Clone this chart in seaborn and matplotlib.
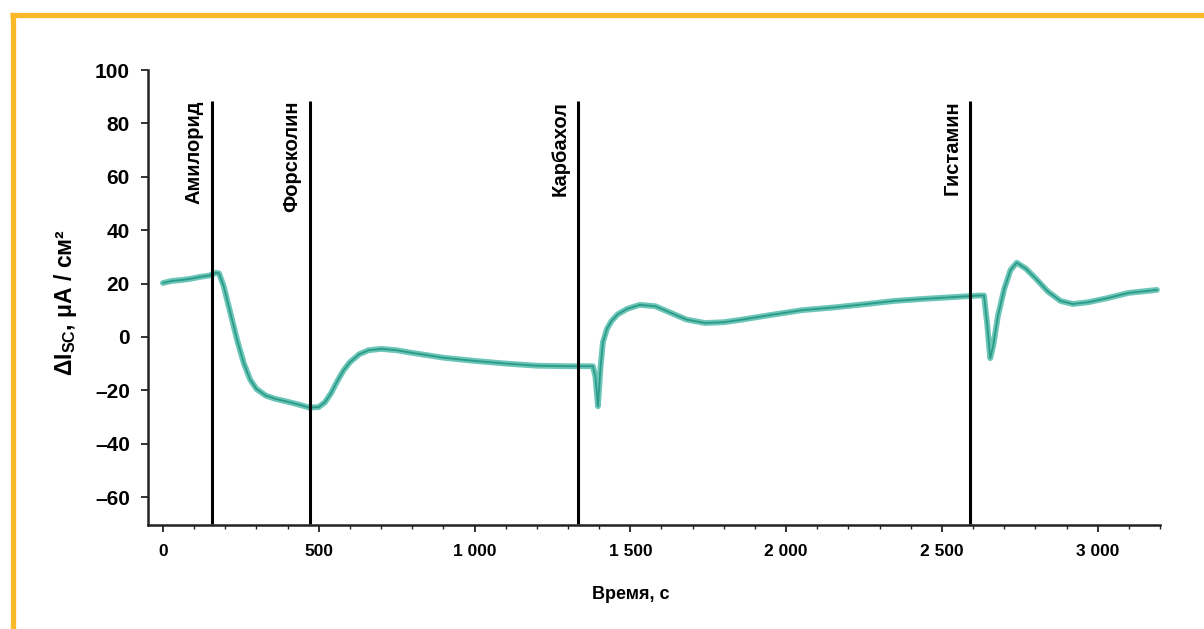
import matplotlib
matplotlib.use("Agg")
import matplotlib.pyplot as plt
import seaborn as sns
import pandas as pd
from matplotlib.lines import Line2D
from matplotlib.ticker import MultipleLocator, FuncFormatter

# трасса тока короткого замыкания (оценено по рисунку)
time_s = [0, 30, 60, 90, 120, 150, 170, 180, 195, 210, 225, 240, 260, 280, 300,
          330, 360, 400, 440, 470, 500, 520, 540, 560, 580, 600, 630, 660, 700,
          750, 800, 900, 1000, 1100, 1200, 1300, 1380, 1388, 1396, 1404, 1412,
          1425, 1440, 1460, 1490, 1530, 1580, 1630, 1680, 1740, 1800, 1860, 1950,
          2050, 2150, 2250, 2350, 2450, 2550, 2620, 2635, 2645, 2655, 2665, 2680,
          2700, 2720, 2740, 2770, 2800, 2840, 2880, 2920, 2970, 3030, 3100, 3190]
isc = [20.2, 21, 21.3, 21.8, 22.5, 23, 24, 23.8, 19, 12, 5, -2, -10, -16, -19.5,
       -22, -23.2, -24.3, -25.5, -26.5, -26.3, -24.5, -21, -16.5, -12.5, -9.5, -6.5,
       -5, -4.5, -5, -6, -7.8, -9, -10, -10.8, -11, -11, -15, -26, -12, -2,
       3, 6, 8.5, 10.5, 12, 11.5, 9, 6.5, 5.2, 5.5, 6.5, 8.2,
       10, 11, 12.2, 13.5, 14.3, 15, 15.5, 15.5, 5, -8, -3, 8,
       18, 25, 27.8, 25.5, 22, 17, 13.5, 12.3, 13, 14.5, 16.5, 17.6]

drugs = ["Амилорид", "Форсколин", "Карбахол", "Гистамин"]
drug_times = [157, 472, 1332, 2590]

df = pd.DataFrame({"t": time_s, "isc": isc})

sns.set_style("ticks")
plt.rcParams["font.family"] = ["Liberation Sans", "DejaVu Sans"]
plt.rcParams["font.weight"] = "bold"
plt.rcParams["text.color"] = "black"
plt.rcParams["axes.labelcolor"] = "black"
plt.rcParams["mathtext.fontset"] = "custom"
plt.rcParams["mathtext.rm"] = "Liberation Sans:bold"
plt.rcParams["mathtext.bf"] = "Liberation Sans:bold"

narrow = ["Liberation Sans Narrow", "Liberation Sans", "DejaVu Sans"]

fig = plt.figure(figsize=(12.04, 6.29), dpi=100)
ax = fig.add_axes([0.1229, 0.1653, 0.8406, 0.7234])

# широкая светлая полоса + тонкая тёмная серединка, как у шумной записи
sns.lineplot(data=df, x="t", y="isc", ax=ax, color="#6cc6b8", linewidth=4.2)
sns.lineplot(data=df, x="t", y="isc", ax=ax, color="#2b9a88", linewidth=1.3)

ax.vlines(drug_times, -70, 88.5, color="black", linewidth=2.2, clip_on=False)
for name, t in zip(drugs, drug_times):
    ax.annotate(name, xy=(t, 88.5), xytext=(-13, 0), textcoords="offset points",
                rotation=90, ha="center", va="top", fontsize=14.5, fontweight="bold")

ax.set_xlim(-48, 3200)
ax.set_ylim(-70.5, 100)
ax.xaxis.set_major_locator(MultipleLocator(500))
ax.xaxis.set_minor_locator(MultipleLocator(100))
ax.yaxis.set_major_locator(MultipleLocator(20))
ax.xaxis.set_major_formatter(FuncFormatter(lambda v, p: f"{int(v):,}".replace(",", " ")))
ax.yaxis.set_major_formatter(FuncFormatter(lambda v, p: f"{int(v)}".replace("-", "–")))

for s in ["top", "right"]:
    ax.spines[s].set_visible(False)
for s in ["left", "bottom"]:
    ax.spines[s].set_linewidth(1.8)
    ax.spines[s].set_color("#222222")
ax.tick_params(axis="both", which="major", length=5, width=1.3, colors="#222222",
               labelcolor="black")
ax.tick_params(axis="x", which="minor", length=3, width=1.0, colors="#222222")
ax.tick_params(axis="y", labelsize=15, pad=8)
ax.tick_params(axis="x", labelsize=12.5, pad=9)
for lab in ax.get_yticklabels():
    lab.set_fontweight("bold")
for lab in ax.get_xticklabels():
    lab.set_fontweight("bold")
    lab.set_family(narrow)

ax.set_xlabel("Время, с", fontsize=13, fontweight="bold", family=narrow)
ax.set_ylabel("ΔI$_{\\mathrm{SC}}$, μA / см²", fontsize=16.5, fontweight="bold")
ax.xaxis.set_label_coords(0.477, -0.135)
ax.yaxis.set_label_coords(-0.068, 0.49)

# оранжевая рамка сверху и слева
orange = "#fbb829"
fig.add_artist(Line2D([0.008, 1.0], [0.976, 0.976], transform=fig.transFigure,
                      color=orange, linewidth=3.8, solid_capstyle="butt"))
fig.add_artist(Line2D([0.0105, 0.0105], [0.0, 0.979], transform=fig.transFigure,
                      color=orange, linewidth=3.8, solid_capstyle="butt"))

fig.savefig("out.png", dpi=100, facecolor="white")
